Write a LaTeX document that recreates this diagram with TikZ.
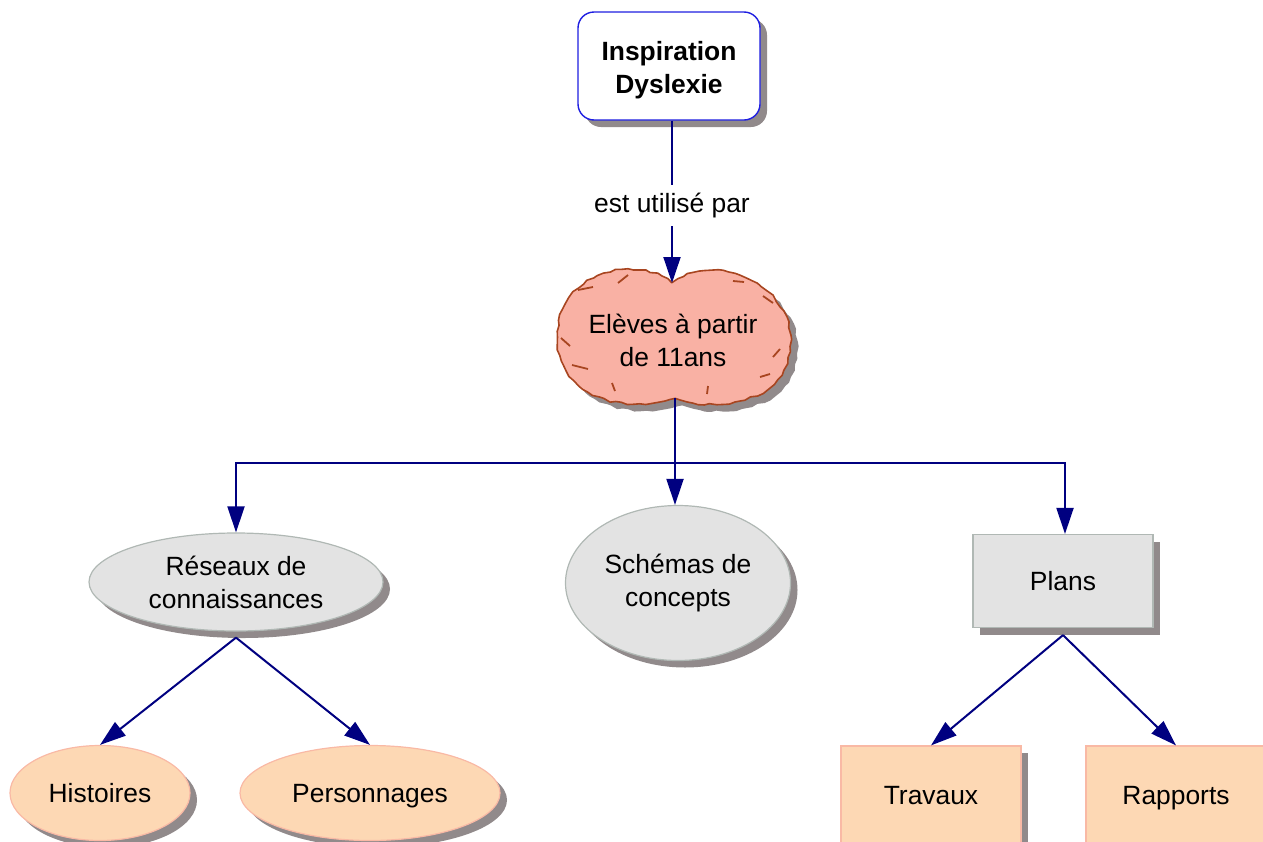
\documentclass[tikz,border=0pt]{standalone}
\usepackage{fontspec}
\setmainfont{Liberation Sans}
\usetikzlibrary{shapes.geometric,shadows,arrows.meta,decorations.pathmorphing}

\definecolor{navyline}{RGB}{0,0,128}
\definecolor{topblue}{RGB}{30,30,225}
\definecolor{shadowgray}{RGB}{145,138,139}
\definecolor{greyfill}{RGB}{227,227,227}
\definecolor{greyedge}{RGB}{176,184,180}
\definecolor{peachfill}{RGB}{253,216,180}
\definecolor{peachedge}{RGB}{249,185,165}
\definecolor{cloudfill}{RGB}{249,177,164}
\definecolor{cloudedge}{RGB}{168,69,32}

\tikzset{
 dropsh/.style={drop shadow={shadow xshift=3.5pt,shadow yshift=-3.5pt,fill=shadowgray,opacity=1}},
 link/.style={draw=navyline, line width=1pt, -{Triangle[length=13pt,width=8.5pt]}},
 greyoval/.style={ellipse, fill=greyfill, draw=greyedge, line width=0.6pt, dropsh, align=center, inner sep=0pt},
 greybox/.style={rectangle, fill=greyfill, draw=greyedge, line width=0.6pt, dropsh, align=center},
 peachoval/.style={ellipse, fill=peachfill, draw=peachedge, line width=0.6pt, dropsh, inner sep=0pt, text height=9.5pt, text depth=0pt},
 peachbox/.style={rectangle, fill=peachfill, draw=peachedge, line width=0.6pt, dropsh, text height=9.5pt, text depth=0pt}
}

\begin{document}
\begin{tikzpicture}[x=0.5pt,y=-0.5pt,font=\fontsize{13.2}{16.5}\selectfont]
 \useasboundingbox (0,0) rectangle (1263,841);
 \clip (0,0) rectangle (1263,841);

 % top box
 \node[rectangle, rounded corners=8pt, fill=white, draw=topblue, line width=0.7pt, dropsh,
   minimum width=91pt, minimum height=54pt] (insp) at (669,66) {};
 \node[align=center, font=\fontsize{13.2}{16.5}\selectfont\bfseries] (insptext) at (669,70) {Inspiration\\Dyslexie};

 % cloud
 \coordinate (cloudtop) at (672,283);
 \coordinate (cloudbot) at (675,398);
 \path[dropsh, fill=cloudfill, draw=cloudedge, line width=0.8pt,
   decorate, decoration={random steps, segment length=3pt, amplitude=0.6pt}]
   (cloudtop) .. controls (645,260) and (590,266) .. (569,298)
   .. controls (549,330) and (553,372) .. (588,392)
   .. controls (615,408) and (658,407) .. (cloudbot)
   .. controls (698,409) and (750,407) .. (774,384)
   .. controls (799,358) and (795,312) .. (766,291)
   .. controls (738,265) and (697,263) .. (cloudtop) -- cycle;
 \foreach \ax/\ay/\bx/\by in {578/290/593/287, 618/283/628/275, 561/338/570/346, 572/365/588/369,
   612/383/615/391, 733/281/744/282, 763/296/773/303, 773/357/780/349, 760/377/770/374, 708/386/707/394}
   \draw[cloudedge, line width=0.9pt] (\ax,\ay) -- (\bx,\by);
 \node[align=center] (eleves) at (673,340) {Elèves à partir\\de 11ans};

 % second row
 \node[greyoval, minimum width=147pt, minimum height=49pt] (reseaux) at (236,582) {Réseaux de\\connaissances};
 \node[greyoval, minimum width=112.5pt, minimum height=77.5pt] (schemas) at (678,583) {\rule{0pt}{4pt}Schémas de\\concepts};
 \node[greybox, minimum width=90pt, minimum height=46.5pt] (plans) at (1063,581) {Plans};

 % third row
 \node[peachoval, minimum width=90pt, minimum height=47.5pt] (histoires) at (100,793) {Histoires};
 \node[peachoval, minimum width=130pt, minimum height=47.5pt] (perso) at (370,793) {Personnages};
 \node[peachbox, minimum width=90pt, minimum height=49pt] (travaux) at (931,795) {Travaux};
 \node[peachbox, minimum width=90pt, minimum height=49pt] (rapports) at (1176,795) {Rapports};

 \draw[link] (insp.south -| cloudtop) -- node[pos=0.52, fill=white, inner sep=4pt] {est utilisé par} (cloudtop);

 \coordinate (fork) at (675,463);
 \draw[draw=navyline, line width=1pt] (cloudbot) -- ([yshift=-3pt]cloudbot) -- (fork);
 \draw[link] (fork) -| (reseaux.north);
 \draw[link] (fork) -- (fork |- schemas.north);
 \draw[link] (fork) -| ([xshift=1pt]plans.north);

 \draw[link] ([yshift=-3pt]reseaux.south) -- (histoires.north);
 \draw[link] ([yshift=-3pt]reseaux.south) -- (perso.north);
 \draw[link] ([yshift=-3.5pt]plans.south) -- (travaux.north);
 \draw[link] ([yshift=-3.5pt]plans.south) -- (rapports.north);
\end{tikzpicture}
\end{document}
